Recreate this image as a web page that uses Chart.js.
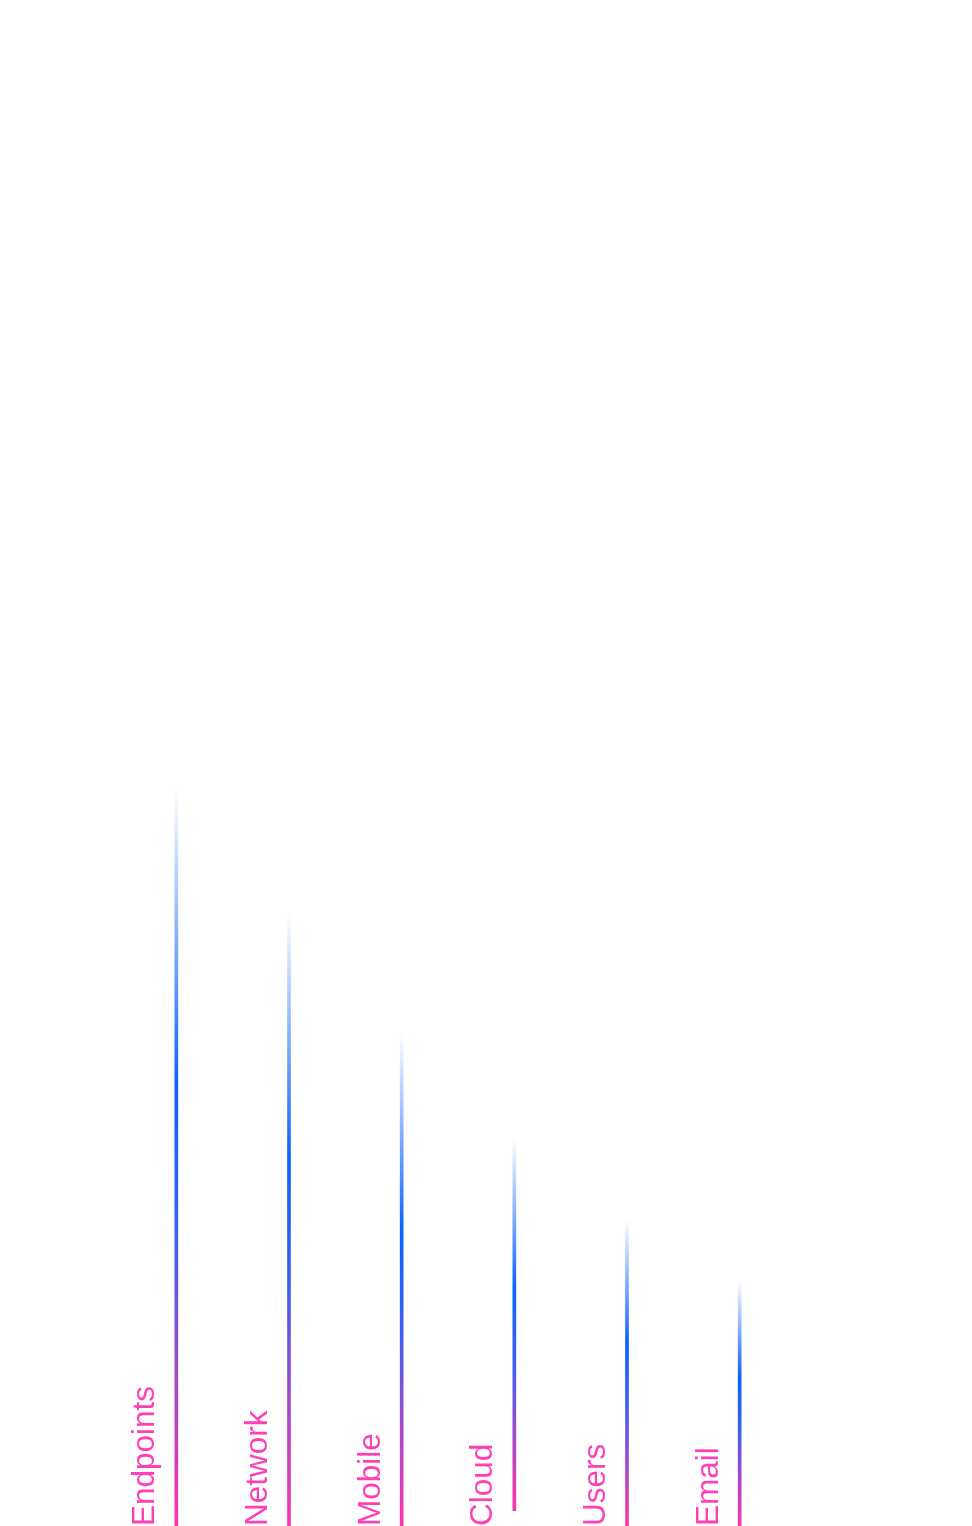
<!DOCTYPE html>
<html>
<head>
<meta charset="utf-8">
<script src="https://cdn.jsdelivr.net/npm/chart.js@4/dist/chart.umd.min.js"></script>
<style>
  html, body { margin: 0; padding: 0; background: #ffffff; }
  #wrap { width: 972px; height: 1526px; }
</style>
</head>
<body>
<div id="wrap"><canvas id="c" width="972" height="1526"></canvas></div>
<script>
const categories = ["Endpoints", "Network", "Mobile", "Cloud", "Users", "Email"];
const topValues = [48.3, 40.2, 32.3, 25.4, 20.1, 16.1];
const baseValues = [0, 0, 0, 1, 0, 0];
const yMax = 100;

const PINK = "#ff35a8";
const BLUE = "#0a62ff";
const LABEL_COLOR = "#ff3fb5";

const barData = categories.map((c, i) => [baseValues[i], topValues[i]]);

function barGradient(ctx) {
  const chart = ctx.chart;
  if (!chart.chartArea) return BLUE;
  const y = chart.scales.y;
  const i = ctx.dataIndex;
  const top = y.getPixelForValue(topValues[i]);
  const bottom = y.getPixelForValue(baseValues[i]);
  const g = chart.ctx.createLinearGradient(0, top, 0, bottom);
  g.addColorStop(0, "rgba(10,98,255,0)");
  g.addColorStop(0.12, "rgba(10,98,255,0.3)");
  g.addColorStop(0.4, "rgba(10,98,255,1)");
  g.addColorStop(0.6, "#3a60f2");
  g.addColorStop(0.8, "#a24acb");
  g.addColorStop(1, PINK);
  return g;
}

const labelPlugin = {
  id: "sideLabels",
  afterDatasetsDraw(chart) {
    const meta = chart.getDatasetMeta(0);
    const c = chart.ctx;
    c.save();
    c.fillStyle = LABEL_COLOR;
    c.font = "31.5px 'Liberation Sans', Arial, sans-serif";
    c.textAlign = "left";
    c.textBaseline = "alphabetic";
    meta.data.forEach((bar, i) => {
      c.save();
      c.translate(bar.x - 22, 1526);
      c.rotate(-Math.PI / 2);
      c.fillText(categories[i], 0, 0);
      c.restore();
    });
    c.restore();
  }
};

new Chart(document.getElementById("c"), {
  type: "bar",
  data: {
    labels: categories,
    datasets: [{
      data: barData,
      backgroundColor: barGradient,
      borderWidth: 0,
      borderSkipped: false,
      barThickness: 3
    }]
  },
  options: {
    responsive: false,
    animation: false,
    layout: { padding: { left: 120, right: 176, top: 0, bottom: 0 } },
    plugins: { legend: { display: false }, tooltip: { enabled: false } },
    scales: {
      x: { display: false, grid: { display: false } },
      y: { display: false, min: 0, max: yMax, grid: { display: false } }
    }
  },
  plugins: [labelPlugin]
});
</script>
</body>
</html>
